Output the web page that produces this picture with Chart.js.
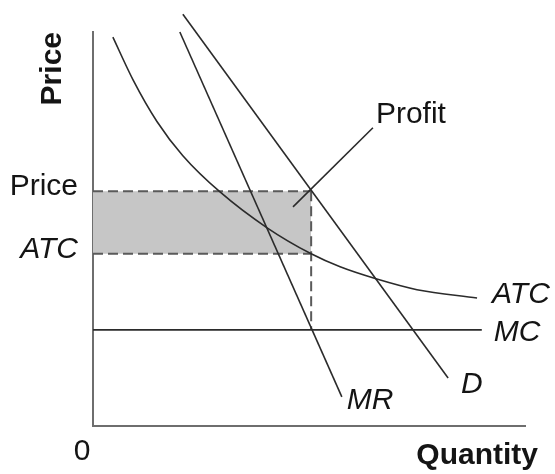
<!DOCTYPE html>
<html>
<head>
<meta charset="utf-8">
<script src="https://cdn.jsdelivr.net/npm/chart.js@4/dist/chart.umd.min.js"></script>
<style>
html,body{margin:0;padding:0;background:#ffffff;}
canvas{display:block;}
</style>
</head>
<body>
<canvas id="c" width="555" height="474"></canvas>
<script>
// ---- values (quantity 0..100, price 0..100) ----
const atcQ = [4.6, 9.3, 14.8, 20.8, 29.4, 40.3, 50.5, 57.2, 65.7, 75.0, 88.9];
const atcP = [98.7, 87.8, 77.3, 68.6, 59.4, 50.3, 43.7, 40.4, 37.3, 34.6, 32.5];
const demandQ = [20.8, 82.2];
const demandP = [104.5, 12.2];
const mrQ = [20.1, 57.6];
const mrP = [100, 7.4];
const mcQ = [0, 90.0];
const mcP = [24.4, 24.4];
const qStar = 50.5;
const priceLevel = 59.6;
const atcLevel = 43.7;
const leaderQ = [46.3, 64.8];
const leaderP = [55.6, 75.7];
const yTickValues = [atcLevel, priceLevel];
const yTickLabels = ['ATC', 'Price'];
const xTickValues = [0];
const xTickLabels = ['0'];
const curveLabels = ['ATC', 'MC', 'D', 'MR', 'Profit'];
const axisTitles = ['Quantity', 'Price'];

const FAMILY = '"Liberation Sans", Arial, Helvetica, sans-serif';
const pts = (qs, ps) => qs.map((q, i) => ({x: q, y: ps[i]}));

const LINE = '#2b2b2b';
const DASH = '#5a5a5a';

const labelPlugin = {
  id: 'curveLabels',
  afterDraw(chart) {
    const {ctx, scales: {x, y}, chartArea} = chart;
    const px = v => x.getPixelForValue(v);
    const py = v => y.getPixelForValue(v);
    ctx.save();
    ctx.fillStyle = '#141414';
    ctx.textBaseline = 'alphabetic';
    ctx.textAlign = 'left';
    const it = '30px ' + FAMILY;
    ctx.font = 'italic ' + it;
    const aE = atcQ.length - 1;
    ctx.fillText(curveLabels[0], px(atcQ[aE]) + 15, py(atcP[aE]) + 5);
    ctx.fillText(curveLabels[1], px(mcQ[1]) + 12, py(mcP[1]) + 11);
    ctx.fillText(curveLabels[2], px(demandQ[1]) + 13, py(demandP[1]) + 15);
    ctx.fillText(curveLabels[3], px(mrQ[1]) + 5, py(mrP[1]) + 12);
    ctx.font = 'normal ' + it;
    ctx.fillText(curveLabels[4], px(leaderQ[1]) + 3, py(leaderP[1]) - 5);
    ctx.font = 'bold 30px ' + FAMILY;
    ctx.textAlign = 'right';
    ctx.fillText(axisTitles[0], chartArea.right + 13, chartArea.bottom + 38);
    ctx.restore();
  }
};

const common = {showLine: true, pointRadius: 0, pointHoverRadius: 0, clip: false, tension: 0};

new Chart(document.getElementById('c'), {
  type: 'scatter',
  data: {
    datasets: [
      Object.assign({}, common, {label: 'ATC', data: pts(atcQ, atcP), borderColor: LINE, borderWidth: 1.6, cubicInterpolationMode: 'monotone'}),
      Object.assign({}, common, {label: 'D', data: pts(demandQ, demandP), borderColor: LINE, borderWidth: 1.6}),
      Object.assign({}, common, {label: 'MR', data: pts(mrQ, mrP), borderColor: LINE, borderWidth: 1.6}),
      Object.assign({}, common, {label: 'MC', data: pts(mcQ, mcP), borderColor: LINE, borderWidth: 1.6}),
      Object.assign({}, common, {label: 'Profit leader', data: pts(leaderQ, leaderP), borderColor: LINE, borderWidth: 1.6}),
      Object.assign({}, common, {label: 'Q*', data: [{x: qStar, y: priceLevel}, {x: qStar, y: mcP[0]}], borderColor: DASH, borderWidth: 2, borderDash: [10, 5]}),
      Object.assign({}, common, {label: 'ATC level', data: [{x: 0, y: atcLevel}, {x: qStar, y: atcLevel}], borderColor: DASH, borderWidth: 2, borderDash: [10, 5]}),
      Object.assign({}, common, {label: 'Price level', data: [{x: 0, y: priceLevel}, {x: qStar, y: priceLevel}], borderColor: DASH, borderWidth: 2, borderDash: [10, 5], fill: {value: atcLevel}, backgroundColor: '#c6c6c6'})
    ]
  },
  options: {
    responsive: false,
    animation: false,
    events: [],
    layout: {padding: {top: 32, right: 30, left: 0, bottom: 0}},
    plugins: {legend: {display: false}, tooltip: {enabled: false}},
    scales: {
      x: {
        type: 'linear', min: 0, max: 100,
        grid: {display: false},
        border: {display: true, color: '#6e6e6e', width: 2},
        afterBuildTicks: s => { s.ticks = xTickValues.map(v => ({value: v})); },
        afterFit: s => { s.height = 48; },
        ticks: {
          autoSkip: false, maxRotation: 0, padding: 0, labelOffset: -11,
          color: '#141414',
          font: {family: FAMILY, size: 30},
          callback: (v, i) => xTickLabels[i]
        }
      },
      y: {
        type: 'linear', min: 0, max: 100,
        grid: {display: false},
        border: {display: true, color: '#6e6e6e', width: 2},
        afterBuildTicks: s => { s.ticks = yTickValues.map(v => ({value: v})); },
        afterFit: s => { s.width = 93; },
        title: {
          display: true, text: axisTitles[1], align: 'end', color: '#141414',
          font: {family: FAMILY, size: 30, weight: 'bold'},
          padding: {top: 35, bottom: 0}
        },
        ticks: {
          autoSkip: false, padding: 7, labelOffset: -4,
          color: '#141414',
          font: ctx => ({family: FAMILY, size: 30, style: (ctx.tick && ctx.tick.value === atcLevel) ? 'italic' : 'normal'}),
          callback: (v, i) => yTickLabels[i]
        }
      }
    }
  },
  plugins: [labelPlugin]
});
</script>
</body>
</html>
